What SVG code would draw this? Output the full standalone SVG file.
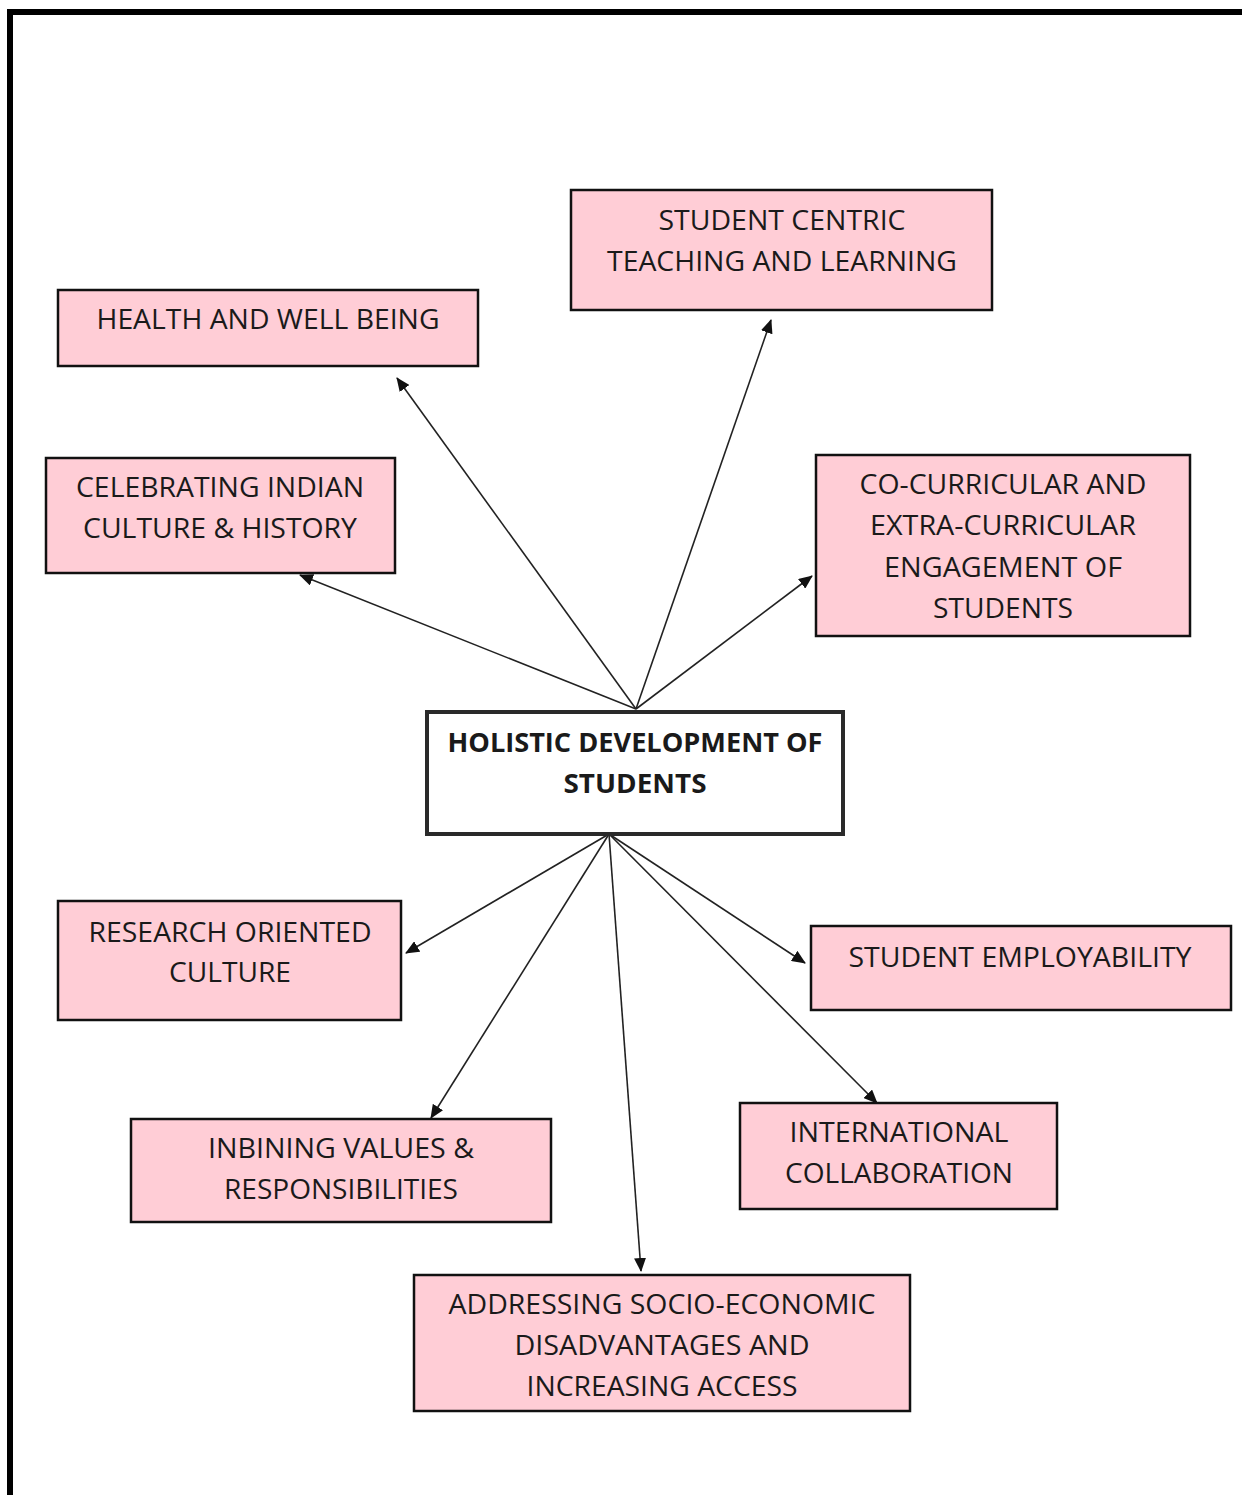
<svg xmlns="http://www.w3.org/2000/svg" width="1242" height="1495" viewBox="0 0 1242 1495">
<style>
.box{fill:#FFCDD6;stroke:#111;stroke-width:2.5}
.main{fill:#fff;stroke:#2a2a2a;stroke-width:4}
.t{font-family:"Open Sans","Noto Sans","Liberation Sans",sans-serif;font-size:27px;fill:#1a1a1a;text-anchor:middle}
.b{font-weight:bold}
.c{stroke:#222;stroke-width:1.6;fill:none;marker-end:url(#ah)}
</style>
<defs>
<marker id="ah" markerUnits="userSpaceOnUse" markerWidth="14" markerHeight="12" refX="13" refY="6" orient="auto">
<path d="M0,0 L14,6 L0,12 z" fill="#111"/>
</marker>
</defs>
<rect x="0" y="0" width="1242" height="1495" fill="#fff"/>
<path d="M10,1495 V12 H1242" fill="none" stroke="#000" stroke-width="6"/>

<g id="connectors">
<line class="c" x1="636" y1="709" x2="397" y2="378"/>
<line class="c" x1="636" y1="709" x2="771" y2="320"/>
<line class="c" x1="636" y1="709" x2="300" y2="575"/>
<line class="c" x1="636" y1="709" x2="812" y2="576"/>
<line class="c" x1="609" y1="834" x2="406" y2="953"/>
<line class="c" x1="609" y1="834" x2="431" y2="1118"/>
<line class="c" x1="609" y1="834" x2="641" y2="1271"/>
<line class="c" x1="609" y1="834" x2="805" y2="963"/>
<line class="c" x1="609" y1="834" x2="877" y2="1103"/>
</g>

<g id="student-centric">
<rect class="box" x="571" y="190" width="421" height="120"/>
<text class="t" x="782" y="230" textLength="247" lengthAdjust="spacingAndGlyphs">STUDENT CENTRIC</text>
<text class="t" x="782" y="271" textLength="350" lengthAdjust="spacingAndGlyphs">TEACHING AND LEARNING</text>
</g>

<g id="health">
<rect class="box" x="58" y="290" width="420" height="76"/>
<text class="t" x="268" y="329" textLength="343" lengthAdjust="spacingAndGlyphs">HEALTH AND WELL BEING</text>
</g>

<g id="culture">
<rect class="box" x="46" y="458" width="349" height="115"/>
<text class="t" x="220" y="497" textLength="288" lengthAdjust="spacingAndGlyphs">CELEBRATING INDIAN</text>
<text class="t" x="220" y="538" textLength="274" lengthAdjust="spacingAndGlyphs">CULTURE &amp; HISTORY</text>
</g>

<g id="co-curricular">
<rect class="box" x="816" y="455" width="374" height="181"/>
<text class="t" x="1003" y="494" textLength="287" lengthAdjust="spacingAndGlyphs">CO-CURRICULAR AND</text>
<text class="t" x="1003" y="535" textLength="266" lengthAdjust="spacingAndGlyphs">EXTRA-CURRICULAR</text>
<text class="t" x="1003" y="577" textLength="238" lengthAdjust="spacingAndGlyphs">ENGAGEMENT OF</text>
<text class="t" x="1003" y="618" textLength="140" lengthAdjust="spacingAndGlyphs">STUDENTS</text>
</g>

<g id="holistic">
<rect class="main" x="427" y="712" width="416" height="122"/>
<text class="t b" x="635" y="752" textLength="375" lengthAdjust="spacingAndGlyphs">HOLISTIC DEVELOPMENT OF</text>
<text class="t b" x="635" y="793" textLength="143" lengthAdjust="spacingAndGlyphs">STUDENTS</text>
</g>

<g id="research">
<rect class="box" x="58" y="901" width="343" height="119"/>
<text class="t" x="230" y="942" textLength="283" lengthAdjust="spacingAndGlyphs">RESEARCH ORIENTED</text>
<text class="t" x="230" y="982" textLength="122" lengthAdjust="spacingAndGlyphs">CULTURE</text>
</g>

<g id="employability">
<rect class="box" x="811" y="926" width="420" height="84"/>
<text class="t" x="1020" y="967" textLength="343" lengthAdjust="spacingAndGlyphs">STUDENT EMPLOYABILITY</text>
</g>

<g id="values">
<rect class="box" x="131" y="1119" width="420" height="103"/>
<text class="t" x="341" y="1158" textLength="266" lengthAdjust="spacingAndGlyphs">INBINING VALUES &amp;</text>
<text class="t" x="341" y="1199" textLength="234" lengthAdjust="spacingAndGlyphs">RESPONSIBILITIES</text>
</g>

<g id="international">
<rect class="box" x="740" y="1103" width="317" height="106"/>
<text class="t" x="899" y="1142" textLength="219" lengthAdjust="spacingAndGlyphs">INTERNATIONAL</text>
<text class="t" x="899" y="1183" textLength="228" lengthAdjust="spacingAndGlyphs">COLLABORATION</text>
</g>

<g id="socio-economic">
<rect class="box" x="414" y="1275" width="496" height="136"/>
<text class="t" x="662" y="1314" textLength="427" lengthAdjust="spacingAndGlyphs">ADDRESSING SOCIO-ECONOMIC</text>
<text class="t" x="662" y="1355" textLength="295" lengthAdjust="spacingAndGlyphs">DISADVANTAGES AND</text>
<text class="t" x="662" y="1396" textLength="271" lengthAdjust="spacingAndGlyphs">INCREASING ACCESS</text>
</g>
</svg>
